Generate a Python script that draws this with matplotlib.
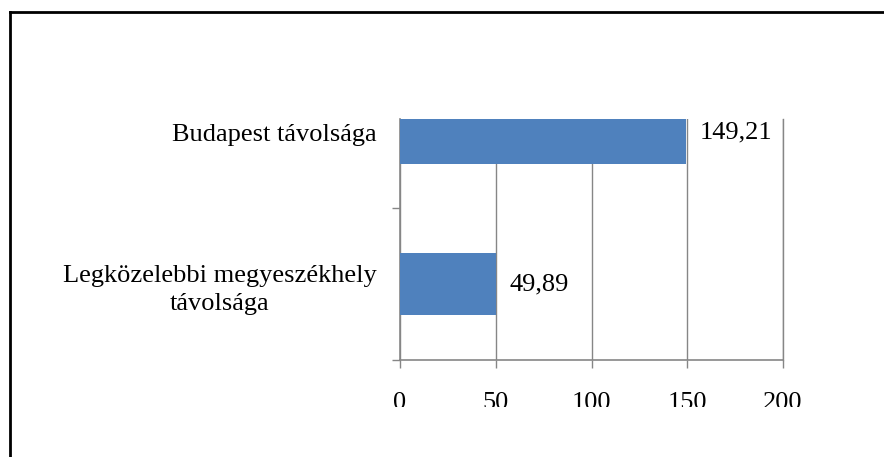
import matplotlib
matplotlib.use("Agg")
import matplotlib.pyplot as plt
from matplotlib.lines import Line2D
from matplotlib.transforms import Bbox, TransformedBbox

# Adatok
kategoriak = ["Legközelebbi megyeszékhely\ntávolsága", "Budapest távolsága"]
ertekek = [49.89, 149.21]
x_tickek = [0, 50, 100, 150, 200]

plt.rcParams['font.family'] = ['Liberation Serif', 'DejaVu Serif']
szurke = '#868686'
kek = '#4F81BD'

fig = plt.figure(figsize=(8.84, 4.57), dpi=100)
ax = fig.add_axes([400 / 884, 1 - 360 / 457, 383 / 884, 241 / 457])

y = list(range(len(kategoriak)))
bars = ax.barh(y, ertekek, 0.41, color=kek, zorder=3)

ax.set_xlim(0, 200)
ax.set_ylim(-0.5, 1.09)

# Tengelyek
for s in ['top', 'right']:
    ax.spines[s].set_visible(False)
for s in ['left', 'bottom']:
    ax.spines[s].set_color(szurke)
    ax.spines[s].set_linewidth(1.2)

ax.set_xticks(x_tickek)
ax.set_xticklabels([str(t) for t in x_tickek])
ax.tick_params(axis='x', length=6, width=1, color=szurke, pad=17, labelsize=19)
ax.grid(axis='x', color=szurke, linewidth=1, zorder=0)
# utolsó rácsvonal a jobb szélen
ax.axvline(200, color=szurke, linewidth=1, clip_on=False, zorder=0)

ax.set_yticks(y)
ax.set_yticklabels(kategoriak, multialignment='center', linespacing=1.35)
ax.set_yticks([-0.5, 0.5], minor=True)
ax.tick_params(axis='y', which='major', length=0, pad=17, labelsize=19)
ax.tick_params(axis='y', which='minor', length=6, width=1, color=szurke)

# Értékcímkék
ax.bar_label(bars, labels=[f"{v:.2f}".replace('.', ',') for v in ertekek],
             padding=10, fontsize=19)

# Alsó tengelyfeliratok levágása
clip = TransformedBbox(Bbox([[0, 1 - 407 / 457], [1, 1]]), fig.transFigure)
for lab in ax.get_xticklabels():
    lab.set_clip_box(clip)
    lab.set_clip_on(True)

# Keret
fig.add_artist(Line2D([10 / 884, 1], [1 - 12 / 457, 1 - 12 / 457],
                      transform=fig.transFigure, color='black', linewidth=2))
fig.add_artist(Line2D([10 / 884, 10 / 884], [0, 1 - 12 / 457],
                      transform=fig.transFigure, color='black', linewidth=2))

fig.savefig("out.png", dpi=100)
